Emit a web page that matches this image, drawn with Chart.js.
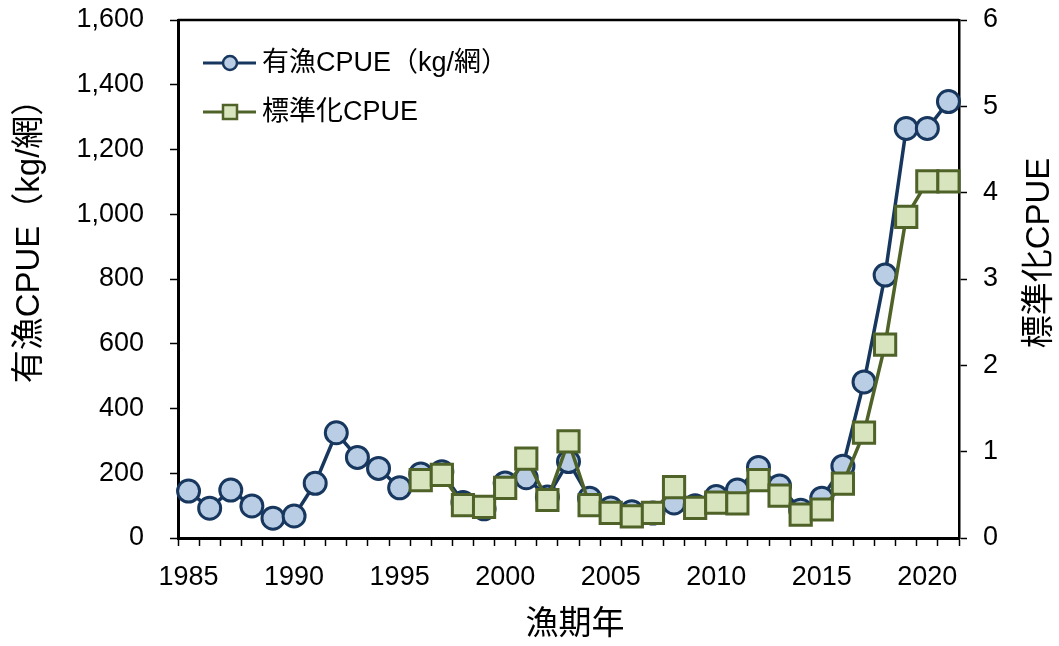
<!DOCTYPE html>
<html>
<head>
<meta charset="utf-8">
<script src="https://cdn.jsdelivr.net/npm/chart.js@4"></script>
<style>
  html, body { margin: 0; padding: 0; background: #fff; }
  #wrap { width: 1059px; height: 646px; }
</style>
</head>
<body>
<div id="wrap"><canvas id="cpue-chart"></canvas></div>
<script>
// 漁期年
const years = [];
for (let y = 1985; y <= 2021; y++) years.push(y);

// 有漁CPUE (kg/網), 1985-2021
const cpueRaw = [145, 92, 148, 99, 61, 68, 169, 325, 249, 215, 155, 198, 205, 110, 90,
  170, 186, 127, 236, 123, 93, 81, 77, 108, 100, 128, 148, 218, 161, 86, 123, 222, 482,
  812, 1265, 1265, 1348];

// 標準化CPUE, from 1996
const cpueStd = [null, null, null, null, null, null, null, null, null, null, null,
  0.67, 0.73, 0.38, 0.36, 0.58, 0.92, 0.44, 1.12, 0.38, 0.29, 0.25, 0.29, 0.59, 0.35,
  0.41, 0.40, 0.67, 0.49, 0.27, 0.33, 0.63, 1.22, 2.24, 3.72, 4.13, 4.13];

const leftTicks = [0, 200, 400, 600, 800, 1000, 1200, 1400, 1600];
const rightTicks = [0, 1, 2, 3, 4, 5, 6];

const LATIN = '"Liberation Sans", Arial, "Noto Sans CJK JP", sans-serif';
const NAVY = '#17375E';
const BLUE_FILL = '#B9CDE5';
const OLIVE = '#4F6228';
const GREEN_FILL = '#D7E4BD';

// frame, axis titles and legend drawn on top of the chart
const decorations = {
  id: 'decorations',
  afterDraw(chart) {
    const { ctx, chartArea: a } = chart;
    ctx.save();
    ctx.strokeStyle = '#000';
    ctx.lineWidth = 2.5;
    ctx.beginPath();
    ctx.moveTo(a.left, a.top);
    ctx.lineTo(a.right, a.top);
    ctx.stroke();

    ctx.fillStyle = '#000';
    ctx.textAlign = 'center';
    ctx.textBaseline = 'middle';
    ctx.font = '33px ' + LATIN;
    ctx.fillText('漁期年', 575, 625);

    ctx.save();
    ctx.translate(30, 233);
    ctx.rotate(-Math.PI / 2);
    ctx.fillText('有漁CPUE（kg/網）', 0, 0);
    ctx.restore();

    ctx.save();
    ctx.translate(1040, 253);
    ctx.rotate(-Math.PI / 2);
    ctx.fillText('標準化CPUE', 0, 0);
    ctx.restore();

    // legend
    const items = [
      { text: '有漁CPUE（kg/網）', color: NAVY, fill: BLUE_FILL, style: 'circle', y: 63 },
      { text: '標準化CPUE', color: OLIVE, fill: GREEN_FILL, style: 'rect', y: 112 },
    ];
    ctx.font = '27px ' + LATIN;
    ctx.textAlign = 'left';
    items.forEach((it) => {
      ctx.strokeStyle = it.color;
      ctx.lineWidth = 3;
      ctx.beginPath();
      ctx.moveTo(203, it.y);
      ctx.lineTo(256, it.y);
      ctx.stroke();
      ctx.fillStyle = it.fill;
      ctx.lineWidth = 2.5;
      ctx.beginPath();
      if (it.style === 'circle') {
        ctx.arc(230, it.y, 7, 0, Math.PI * 2);
      } else {
        ctx.rect(223, it.y - 7, 14, 14);
      }
      ctx.fill();
      ctx.stroke();
      ctx.fillStyle = '#000';
      ctx.fillText(it.text, 262, it.y + 1);
    });
    ctx.restore();
  },
};

// fixed axis sizes so the plot box sits where the reference has it
function fixWidth(w) {
  return (s) => {
    s.width = w;
    s.paddingTop = 0;
    s.paddingBottom = 0;
  };
}

new Chart(document.getElementById('cpue-chart'), {
  type: 'line',
  data: {
    labels: years,
    datasets: [
      {
        label: '標準化CPUE',
        data: cpueStd,
        yAxisID: 'y1',
        order: 0,
        borderColor: OLIVE,
        borderWidth: 3.5,
        backgroundColor: GREEN_FILL,
        pointStyle: 'rect',
        pointRadius: 15,
        pointBorderWidth: 3,
        pointBorderColor: OLIVE,
        pointBackgroundColor: GREEN_FILL,
        tension: 0,
      },
      {
        label: '有漁CPUE（kg/網）',
        data: cpueRaw,
        yAxisID: 'y',
        order: 1,
        borderColor: NAVY,
        borderWidth: 3.5,
        backgroundColor: BLUE_FILL,
        pointStyle: 'circle',
        pointRadius: 11,
        pointBorderWidth: 3,
        pointBorderColor: NAVY,
        pointBackgroundColor: BLUE_FILL,
        tension: 0,
      },
    ],
  },
  options: {
    responsive: true,
    maintainAspectRatio: false,
    animation: false,
    events: [],
    layout: { padding: { top: 20, left: 0, right: 0, bottom: 0 } },
    plugins: {
      legend: { display: false },
      tooltip: { enabled: false },
    },
    scales: {
      x: {
        type: 'category',
        offset: true,
        grid: {
          offset: true,
          drawOnChartArea: false,
          drawTicks: true,
          tickLength: 8,
          tickWidth: 1.5,
          tickColor: '#000',
        },
        border: { color: '#000', width: 3 },
        ticks: {
          autoSkip: false,
          maxRotation: 0,
          padding: 15,
          color: '#000',
          font: { family: LATIN, size: 27 },
          callback: function (value, index) {
            const y = years[index];
            return y % 5 === 0 ? String(y) : '';
          },
        },
        afterFit: (s) => {
          s.height = 108;
          s.paddingLeft = 0;
          s.paddingRight = 0;
        },
      },
      y: {
        position: 'left',
        min: 0,
        max: 1600,
        afterBuildTicks: (s) => { s.ticks = leftTicks.map((v) => ({ value: v })); },
        grid: {
          drawOnChartArea: false,
          tickLength: 8,
          tickWidth: 1.5,
          tickColor: '#000',
        },
        border: { color: '#000', width: 3 },
        ticks: {
          padding: 26,
          color: '#000',
          font: { family: LATIN, size: 27 },
          callback: (v) => v.toLocaleString('en-US'),
        },
        afterFit: fixWidth(178),
      },
      y1: {
        position: 'right',
        min: 0,
        max: 6,
        afterBuildTicks: (s) => { s.ticks = rightTicks.map((v) => ({ value: v })); },
        grid: {
          drawOnChartArea: false,
          tickLength: 8,
          tickWidth: 1.5,
          tickColor: '#000',
        },
        border: { color: '#000', width: 2.5 },
        ticks: {
          padding: 16,
          color: '#000',
          font: { family: LATIN, size: 27 },
        },
        afterFit: fixWidth(100),
      },
    },
  },
  plugins: [decorations],
});
</script>
</body>
</html>
